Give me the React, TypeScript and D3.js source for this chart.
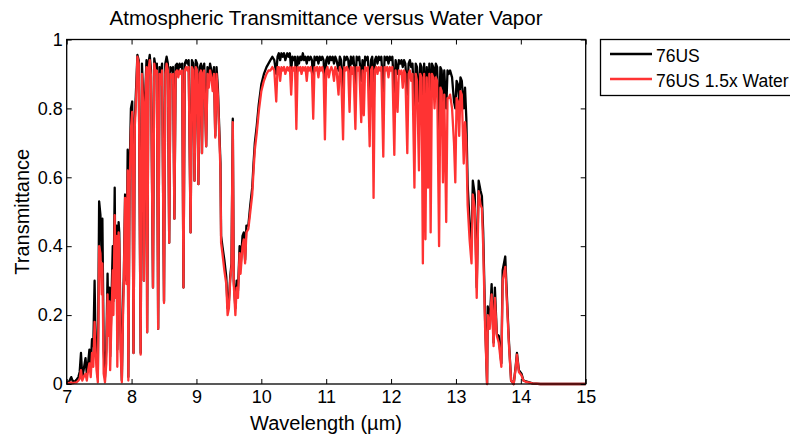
import { useEffect, useRef } from 'react';
import * as d3 from 'd3';

// wavelength samples (µm)
const wavelength = [
  7.00, 7.04, 7.07, 7.09, 7.12, 7.15, 7.18, 7.20, 7.22, 7.24,
  7.26, 7.29, 7.31, 7.33, 7.35, 7.37, 7.39, 7.41, 7.43, 7.44,
  7.46, 7.48, 7.50, 7.52, 7.54, 7.55, 7.57, 7.59, 7.61, 7.63,
  7.64, 7.66, 7.67, 7.69, 7.71, 7.72, 7.74, 7.75, 7.77, 7.78,
  7.80, 7.81, 7.83, 7.85, 7.87, 7.88, 7.90, 7.92, 7.94, 7.95,
  7.97, 7.99, 8.01, 8.03, 8.05, 8.07, 8.09, 8.11, 8.14, 8.16,
  8.18, 8.19, 8.21, 8.23, 8.24, 8.26, 8.28, 8.30, 8.33, 8.35,
  8.37, 8.39, 8.41, 8.43, 8.45, 8.47, 8.50, 8.52, 8.54, 8.56,
  8.58, 8.60, 8.62, 8.64, 8.66, 8.68, 8.70, 8.72, 8.74, 8.76,
  8.78, 8.80, 8.82, 8.84, 8.86, 8.88, 8.91, 8.93, 8.95, 8.97,
  8.99, 9.01, 9.03, 9.05, 9.07, 9.085, 9.10, 9.12, 9.15, 9.17,
  9.19, 9.21, 9.23, 9.25, 9.27, 9.29, 9.31, 9.33, 9.35, 9.37,
  9.38, 9.40, 9.43, 9.46, 9.48, 9.50, 9.52, 9.54, 9.56, 9.575,
  9.60, 9.62, 9.64, 9.665, 9.68, 9.71, 9.73, 9.75, 9.77, 9.80,
  9.83, 9.86, 9.88, 9.90, 9.93, 9.96, 10.00, 10.04, 10.08, 10.11,
  10.14, 10.17, 10.20, 10.23, 10.25, 10.27, 10.29, 10.31, 10.33, 10.35,
  10.37, 10.40, 10.42, 10.44, 10.46, 10.48, 10.50, 10.52, 10.54, 10.56,
  10.58, 10.60, 10.62, 10.64, 10.66, 10.68, 10.70, 10.72, 10.74, 10.76,
  10.78, 10.80, 10.82, 10.84, 10.86, 10.88, 10.90, 10.92, 10.94, 10.96,
  10.98, 11.00, 11.02, 11.04, 11.06, 11.08, 11.10, 11.12, 11.14, 11.16,
  11.19, 11.21, 11.23, 11.26, 11.28, 11.30, 11.32, 11.34, 11.36, 11.38,
  11.40, 11.42, 11.45, 11.47, 11.49, 11.51, 11.54, 11.56, 11.58, 11.60,
  11.62, 11.64, 11.67, 11.69, 11.71, 11.73, 11.75, 11.77, 11.79, 11.81,
  11.83, 11.85, 11.88, 11.90, 11.92, 11.94, 11.96, 11.98, 12.00, 12.02,
  12.05, 12.07, 12.10, 12.12, 12.14, 12.16, 12.18, 12.20, 12.22, 12.25,
  12.27, 12.29, 12.31, 12.33, 12.36, 12.38, 12.40, 12.43, 12.45, 12.47,
  12.49, 12.51, 12.53, 12.55, 12.57, 12.59, 12.61, 12.63, 12.65, 12.67,
  12.69, 12.71, 12.74, 12.76, 12.78, 12.80, 12.82, 12.85, 12.87, 12.89,
  12.91, 12.94, 12.97, 12.99, 13.01, 13.03, 13.05, 13.07, 13.09, 13.12,
  13.14, 13.16, 13.18, 13.21, 13.24, 13.26, 13.29, 13.32, 13.35, 13.38,
  13.40, 13.42, 13.45, 13.48, 13.49, 13.52, 13.55, 13.58, 13.60, 13.63,
  13.66, 13.70, 13.72, 13.76, 13.79, 13.815, 13.85, 13.89, 13.92, 13.94,
  13.97, 14.01, 14.04, 14.08, 14.18, 14.30, 15.00,
];

// 76US standard atmosphere
const trans76US = [
  .005, .008, .02, .01, .006, .012, .02, .035, .09, .02,
  .04, .075, .03, .06, .10, .05, .13, .11, .30, .18,
  .08, .02, .53, .49, .36, .48, .10, .02, .10, .32,
  .20, .28, .08, .24, .40, .24, .57, .30, .46, .10,
  .47, .44, .15, .01, .25, .31, .55, .30, .68, .02,
  .62, .80, .82, .09, .77, .86, .955, .94, .09, .93,
  .82, .30, .84, .94, .15, .93, .955, .91, .28, .945,
  .92, .93, .16, .92, .90, .93, .24, .93, .95, .93,
  .41, .92, .91, .92, .48, .925, .93, .91, .93, .92,
  .93, .28, .93, .94, .93, .94, .44, .94, .93, .59,
  .94, .93, .58, .92, .93, .67, .92, .93, .69, .92,
  .88, .93, .91, .87, .92, .72, .92, .86, .75, .64,
  .43, .40, .36, .31, .22, .24, .31, .35, .77, .30,
  .22, .30, .27, .40, .34, .43, .44, .36, .46, .46,
  .52, .57, .64, .70, .75, .81, .87, .90, .92, .93,
  .94, .95, .94, .90, .95, .96, .94, .96, .95, .96,
  .94, .96, .95, .96, .91, .95, .94, .95, .86, .95,
  .93, .95, .94, .96, .94, .95, .93, .95, .94, .95,
  .94, .88, .95, .94, .95, .93, .95, .94, .95, .94,
  .85, .94, .95, .93, .95, .94, .95, .93, .95, .94,
  .91, .95, .94, .85, .95, .94, .95, .94, .89, .95,
  .93, .95, .87, .95, .94, .95, .88, .94, .89, .95,
  .94, .95, .85, .94, .95, .80, .94, .95, .93, .95,
  .94, .95, .84, .95, .94, .95, .93, .95, .94, .95,
  .84, .94, .90, .94, .93, .94, .92, .94, .93, .84,
  .93, .94, .92, .93, .80, .93, .92, .82, .93, .92,
  .72, .93, .76, .92, .80, .93, .78, .93, .92, .88,
  .93, .92, .74, .92, .91, .82, .91, .80, .91, .90,
  .91, .89, .82, .80, .88, .87, .82, .89, .88, .80,
  .86, .77, .58, .47, .40, .59, .55, .28, .59, .56,
  .545, .44, .18, 0, .225, .18, .29, .12, .28, .145,
  .14, .06, .33, .37, .235, .13, .01, 0, .05, .09,
  .04, .03, .01, .008, .002, 0, 0,
];

// 76US with 1.5x water vapour
const trans76USWet = [
  .002, .003, .005, .002, .004, .005, .01, .015, .04, .01,
  .02, .03, .01, .04, .06, .02, .09, .05, .18, .12,
  .04, .005, .40, .38, .26, .35, .03, .005, .06, .26,
  .14, .24, .04, .19, .33, .20, .49, .25, .43, .05,
  .44, .41, .10, .005, .22, .29, .54, .29, .62, .01,
  .57, .74, .79, .09, .75, .83, .95, .93, .085, .90,
  .80, .30, .81, .92, .15, .91, .94, .89, .28, .93,
  .90, .91, .16, .90, .87, .91, .235, .90, .93, .91,
  .41, .90, .89, .90, .48, .905, .91, .89, .91, .90,
  .91, .28, .91, .92, .91, .92, .44, .92, .91, .59,
  .92, .91, .58, .90, .91, .67, .90, .91, .69, .90,
  .86, .91, .89, .85, .90, .715, .90, .84, .73, .62,
  .41, .38, .33, .29, .20, .22, .30, .34, .76, .29,
  .20, .28, .25, .38, .32, .40, .42, .35, .44, .45,
  .50, .55, .62, .68, .73, .79, .85, .88, .90, .91,
  .91, .92, .91, .82, .92, .92, .88, .92, .91, .92,
  .90, .92, .91, .92, .84, .92, .91, .92, .74, .92,
  .91, .92, .90, .92, .91, .92, .88, .92, .91, .92,
  .90, .77, .92, .91, .92, .89, .92, .91, .92, .90,
  .71, .91, .92, .89, .91, .92, .91, .88, .92, .91,
  .84, .92, .91, .71, .92, .91, .92, .91, .79, .92,
  .90, .92, .74, .92, .91, .92, .76, .91, .78, .92,
  .91, .92, .69, .91, .92, .54, .91, .92, .90, .92,
  .91, .92, .66, .92, .91, .92, .89, .92, .91, .92,
  .665, .91, .79, .91, .90, .91, .86, .91, .90, .67,
  .90, .91, .88, .90, .57, .90, .88, .62, .90, .89,
  .35, .90, .42, .89, .57, .90, .44, .90, .89, .80,
  .89, .88, .40, .86, .85, .585, .84, .47, .83, .83,
  .84, .80, .70, .585, .83, .82, .72, .85, .84, .64,
  .76, .70, .52, .42, .35, .55, .51, .25, .56, .52,
  .51, .40, .16, 0, .20, .16, .26, .11, .25, .14,
  .12, .05, .30, .34, .22, .12, .01, 0, .045, .085,
  .035, .025, .01, .006, .002, 0, 0,
];

const seriesNames = ['76US', '76US 1.5x Water'];
const seriesColors = ['#000000', '#ff3333'];
const xTicks = [7, 8, 9, 10, 11, 12, 13, 14, 15];
const yTicks = [0, 0.2, 0.4, 0.6, 0.8, 1];

const FONT = '"Liberation Sans", Arial, Helvetica, sans-serif';
const [width, height] = [790, 440];
const [left, right, top, bottom] = [66.7, 585.7, 39.5, 384];

function App() {
  const node = useRef<SVGSVGElement>(null);

  useEffect(() => {
    if (!node.current) return;
    const svg = d3.select(node.current);
    svg.selectAll('*').remove();

    const x = d3.scaleLinear().domain([7, 15]).range([left, right]);
    const y = d3.scaleLinear().domain([0, 1]).range([bottom, top]);

    const n = Math.min(wavelength.length, trans76US.length, trans76USWet.length);
    const line = d3.line<number>()
      .x((_, i) => x(wavelength[i]))
      .y(d => y(d));

    [trans76US, trans76USWet].forEach((vals, k) => {
      svg.append('path')
        .attr('d', line(vals.slice(0, n)))
        .attr('fill', 'none')
        .attr('stroke', seriesColors[k])
        .attr('stroke-width', 2.3)
        .attr('stroke-linejoin', 'round');
    });

    // axes, ticks point inward like matlab
    const styleAxis = (g: any) => {
      g.select('.domain').remove();
      g.attr('font-family', FONT).attr('font-size', 18);
      g.selectAll('.tick line').attr('stroke-width', 1);
      g.selectAll('.tick text').attr('fill', '#000');
    };

    svg.append('g')
      .attr('transform', `translate(0,${bottom})`)
      .call(d3.axisBottom(x).tickValues(xTicks).tickSizeInner(-5).tickSizeOuter(0).tickPadding(6).tickFormat(d3.format('d')))
      .call(styleAxis);
    svg.append('g')
      .attr('transform', `translate(${left},0)`)
      .call(d3.axisLeft(y).tickValues(yTicks).tickSizeInner(-5).tickSizeOuter(0).tickPadding(4).tickFormat(d3.format('~g')))
      .call(styleAxis);
    svg.append('g')
      .attr('transform', `translate(0,${top})`)
      .call(d3.axisTop(x).tickValues(xTicks).tickSizeInner(-5).tickSizeOuter(0).tickFormat(() => ''))
      .call(styleAxis);
    svg.append('g')
      .attr('transform', `translate(${right},0)`)
      .call(d3.axisRight(y).tickValues(yTicks).tickSizeInner(-5).tickSizeOuter(0).tickFormat(() => ''))
      .call(styleAxis);

    svg.append('rect')
      .attr('x', left).attr('y', top)
      .attr('width', right - left).attr('height', bottom - top)
      .attr('fill', 'none').attr('stroke', '#000').attr('stroke-width', 1.3);

    svg.append('text')
      .attr('x', 326).attr('y', 25)
      .attr('text-anchor', 'middle')
      .attr('font-family', FONT).attr('font-size', 20.5)
      .text('Atmospheric Transmittance versus Water Vapor');

    svg.append('text')
      .attr('x', 326).attr('y', 430)
      .attr('text-anchor', 'middle')
      .attr('font-family', FONT).attr('font-size', 20)
      .text('Wavelength (µm)');

    svg.append('text')
      .attr('transform', `translate(29,${(top + bottom) / 2}) rotate(-90)`)
      .attr('text-anchor', 'middle')
      .attr('font-family', FONT).attr('font-size', 20)
      .text('Transmittance');

    // legend
    const legend = svg.append('g');
    legend.append('rect')
      .attr('x', 600.5).attr('y', 39.5)
      .attr('width', 200).attr('height', 56)
      .attr('fill', '#fff').attr('stroke', '#000').attr('stroke-width', 1.3);
    seriesNames.forEach((name, k) => {
      const ly = 54 + k * 25;
      legend.append('line')
        .attr('x1', 610).attr('x2', 652)
        .attr('y1', ly).attr('y2', ly)
        .attr('stroke', seriesColors[k]).attr('stroke-width', 2.3);
      legend.append('text')
        .attr('x', 656).attr('y', ly + 8)
        .attr('font-family', FONT).attr('font-size', 17.5)
        .text(name);
    });
  }, []);

  return (
    <svg
      ref={node}
      width={width}
      height={height}
      style={{ position: 'absolute', left: 0, top: 0, background: '#fff' }}
    />
  );
}

export default App;
